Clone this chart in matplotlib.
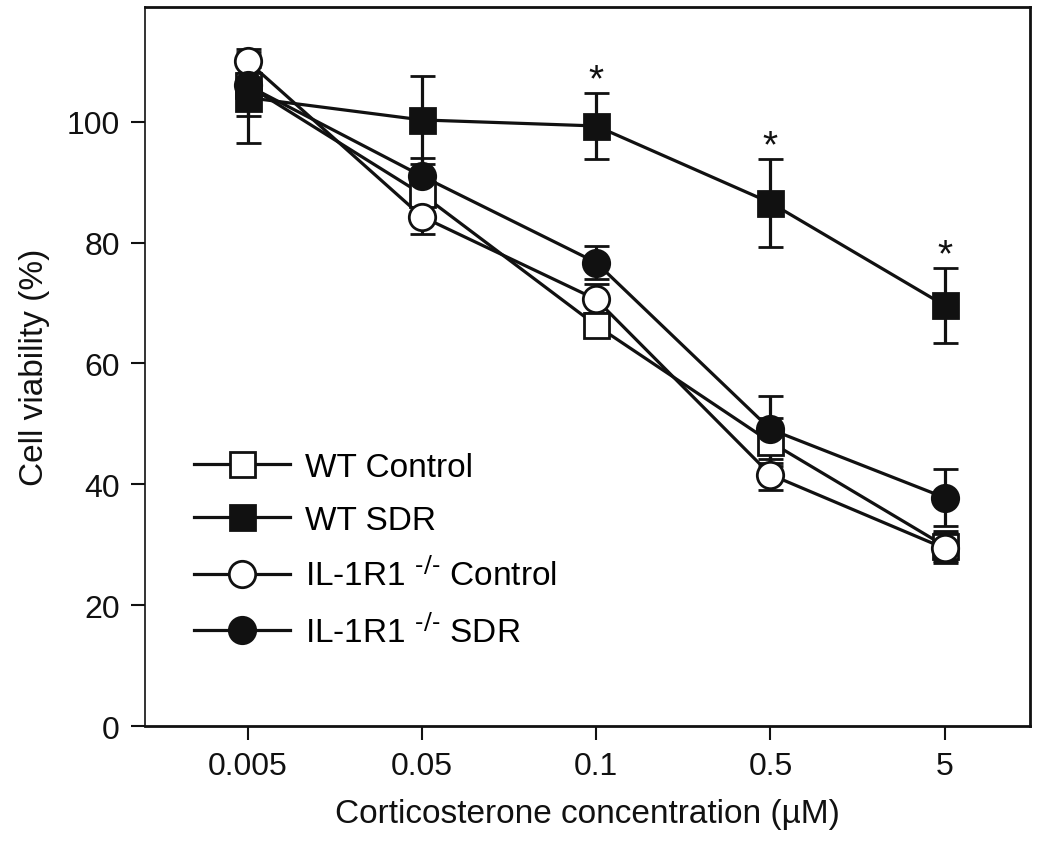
import numpy as np
import matplotlib
matplotlib.use('Agg')
import matplotlib.pyplot as plt
from matplotlib.lines import Line2D

plt.rcParams['font.family'] = ['Liberation Sans', 'DejaVu Sans']
plt.rcParams['mathtext.default'] = 'regular'

# Data
conc_labels = ['0.005', '0.05', '0.1', '0.5', '5']

wt_control = [106, 88, 66.3, 47, 29.8]
wt_control_err = [5, 3, 2, 4, 2.5]

wt_sdr = [104, 100.3, 99.3, 86.6, 69.6]
wt_sdr_err = [7.5, 7.3, 5.5, 7.3, 6.2]

ko_control = [110, 84.3, 70.6, 41.6, 29.4]
ko_control_err = [2, 2.9, 2.5, 2.6, 2.5]

ko_sdr = [106, 91, 76.7, 49.1, 37.8]
ko_sdr_err = [3, 3, 2.8, 5.5, 4.7]

significant = [False, False, True, True, True]

x = np.arange(len(conc_labels))
col = '#111111'

fig = plt.figure(figsize=(10.5, 8.53), dpi=100)
ax = fig.add_axes([0.138, 0.1477, 0.843, 0.843])

common = dict(color=col, lw=2.3, capsize=9, capthick=2.3, elinewidth=2.3,
              markeredgewidth=2, markeredgecolor=col)

series = [
    (wt_control, wt_control_err, 's', 'white', 'WT Control'),
    (wt_sdr, wt_sdr_err, 's', col, 'WT SDR'),
    (ko_control, ko_control_err, 'o', 'white', r'IL-1R1 $^{\text{-/-}}$ Control'),
    (ko_sdr, ko_sdr_err, 'o', col, r'IL-1R1 $^{\text{-/-}}$ SDR'),
]

handles = []
for vals, errs, mk, fc, lab in series:
    ms = 18 if mk == 's' else 19
    ax.errorbar(x, vals, yerr=errs, marker=mk, ms=ms, markerfacecolor=fc, **common)
    handles.append(Line2D([], [], color=col, lw=2.3, marker=mk, ms=ms,
                          markerfacecolor=fc, markeredgecolor=col,
                          markeredgewidth=2, label=lab))

# significance stars above WT SDR
for xi, m, e, s in zip(x, wt_sdr, wt_sdr_err, significant):
    if s:
        ax.annotate('*', xy=(xi, m + e), xytext=(0, 9), textcoords='offset points',
                    ha='center', va='center', fontsize=28, color=col)

ax.set_xlim(-0.59, 4.49)
ax.set_ylim(0, 119)
ax.set_xticks(x)
ax.set_xticklabels(conc_labels)
ax.set_yticks([0, 20, 40, 60, 80, 100])

ax.tick_params(axis='both', direction='out', length=10, width=1.5,
               labelsize=23, colors=col, pad=8)
for sp in ax.spines.values():
    sp.set_linewidth(2)
    sp.set_color(col)
ax.spines['left'].set_linewidth(1.2)

ax.set_xlabel('Corticosterone concentration (\u00b5M)', fontsize=24, labelpad=12, color=col)
ax.set_ylabel('Cell viability (%)', fontsize=24, labelpad=12, color=col)

ax.legend(handles=handles, loc='upper left', bbox_to_anchor=(0.04, 0.40),
          frameon=False, fontsize=24, handlelength=2.9, handletextpad=0.45,
          labelspacing=0.67, borderaxespad=0)

fig.savefig('out.png', dpi=100)
